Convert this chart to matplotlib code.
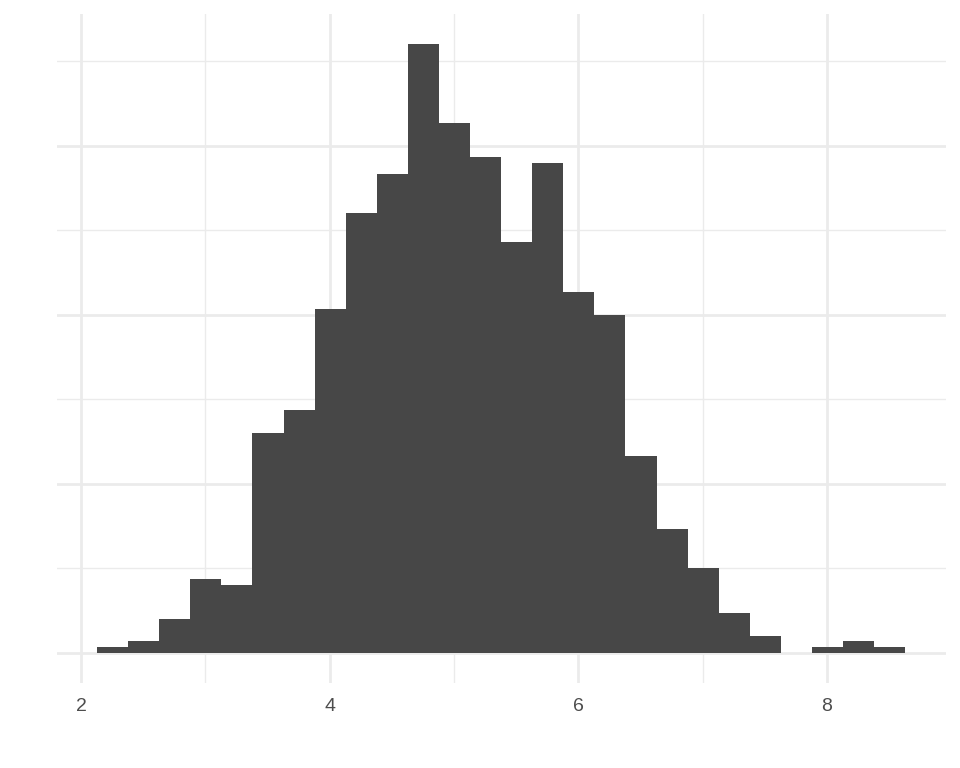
import numpy as np
import matplotlib
matplotlib.use("Agg")
import matplotlib.pyplot as plt

# Histogram data (bin width 0.25 starting at ~2.13)
bin_start = 2.129
bin_width = 0.25
counts = [1, 2, 6, 13, 12, 39, 43, 61, 78, 85, 108, 94, 88, 73, 87, 64, 60, 35, 22, 15, 7, 3, 0, 1, 2, 1]
x_ticks = [2, 4, 6, 8]
x_tick_labels = ["2", "4", "6", "8"]

counts = np.array(counts)
edges = bin_start + bin_width * np.arange(len(counts) + 1)

fig = plt.figure(figsize=(9.6, 7.68), dpi=100)
ax = fig.add_axes([0.059, 0.1107, 0.926, 0.871])

ax.bar(edges[:-1], counts, width=bin_width, align="edge", color="#474747",
       edgecolor="none", linewidth=0, zorder=3)

span = edges[-1] - edges[0]
ax.set_xlim(edges[0] - 0.05 * span, edges[-1] + 0.05 * span)
ymax = counts.max()
ax.set_ylim(-0.05 * ymax, ymax * 1.05)

ax.set_xticks(x_ticks)
ax.set_xticklabels(x_tick_labels)
ax.set_xticks([3, 5, 7], minor=True)
ax.set_yticks([0, 30, 60, 90])
ax.set_yticklabels([])
ax.set_yticks([15, 45, 75, 105], minor=True)

ax.grid(which="major", color="#EBEBEB", linewidth=2.0, zorder=0)
ax.grid(which="minor", color="#EBEBEB", linewidth=1.0, zorder=0)
ax.set_axisbelow(True)

for s in ax.spines.values():
    s.set_visible(False)
ax.tick_params(which="both", length=0)
ax.tick_params(axis="x", pad=11, labelsize=14, labelcolor="#4D4D4D")
for lbl in ax.get_xticklabels():
    lbl.set_family(["Liberation Sans", "DejaVu Sans"])

fig.savefig("out.png", dpi=100, facecolor="white")
